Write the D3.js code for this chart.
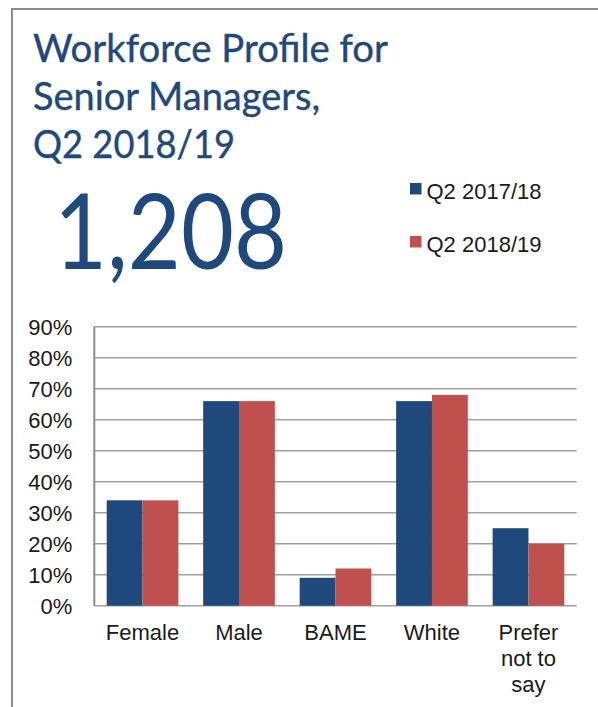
<!DOCTYPE html>
<html>
<head>
<meta charset="utf-8">
<script src="https://cdn.jsdelivr.net/npm/d3@7"></script>
<style>
  html, body { margin: 0; padding: 0; background: #fff; }
  svg { display: block; }
</style>
</head>
<body>
<svg id="chart" width="598" height="707"></svg>
<script>
// ---- data ----
const categories = ["Female", "Male", "BAME", "White", "Prefer not to say"];
const categoryLines = [["Female"], ["Male"], ["BAME"], ["White"], ["Prefer", "not to", "say"]];
const seriesNames = ["Q2 2017/18", "Q2 2018/19"];
const valuesQ2_2017_18 = [34, 66, 9, 66, 25];
const valuesQ2_2018_19 = [34, 66, 12, 68, 20];
const yTicks = [0, 10, 20, 30, 40, 50, 60, 70, 80, 90];
const titleLines = ["Workforce Profile for", "Senior Managers,", "Q2 2018/19"];
const headcount = "1,208";

const seriesColors = ["#1F497D", "#C0504D"];
const seriesValues = [valuesQ2_2017_18, valuesQ2_2018_19];

const svg = d3.select("#chart");

// outer frame
svg.append("rect")
  .attr("x", 12).attr("y", 9).attr("width", 640).attr("height", 720)
  .attr("fill", "none").attr("stroke", "#8c8c8c").attr("stroke-width", 2);

// title
const titleBase = [62, 110, 158];
const titleWidths = [355, 287, 202];
svg.append("g").selectAll("text").data(titleLines).join("text")
  .attr("x", 33)
  .attr("y", (d, i) => titleBase[i])
  .attr("textLength", (d, i) => titleWidths[i])
  .attr("lengthAdjust", "spacingAndGlyphs")
  .attr("font-family", "Lato, 'Open Sans', sans-serif")
  .attr("font-size", 39)
  .attr("fill", "#1F497D")
  .attr("stroke", "#1F497D").attr("stroke-width", 0.4)
  .text(d => d);

// big number
svg.append("text")
  .attr("x", 54).attr("y", 269)
  .attr("textLength", 233)
  .attr("lengthAdjust", "spacingAndGlyphs")
  .attr("font-family", "Lato, 'Open Sans', sans-serif")
  .attr("font-size", 105)
  .attr("fill", "#1F497D")
  .text(headcount);

// legend
const legend = svg.append("g");
const legY = [183, 236];
seriesNames.forEach((name, i) => {
  legend.append("rect")
    .attr("x", 410).attr("y", legY[i])
    .attr("width", 11.5).attr("height", 11.5)
    .attr("fill", seriesColors[i]);
  legend.append("text")
    .attr("x", 426.5).attr("y", legY[i] + 15.5)
    .attr("font-family", "'Liberation Sans', Arial, sans-serif")
    .attr("font-size", 22)
    .attr("fill", "#1a1a1a")
    .text(name);
});

// plot
const pLeft = 94.3, pRight = 576.7, pTop = 326.7, pBottom = 605.7;
const y = d3.scaleLinear().domain([0, 90]).range([pBottom, pTop]);
const x0 = d3.scaleBand().domain(categories).range([pLeft, pRight])
  .paddingInner(0.257).paddingOuter(0.1285);
const x1 = d3.scaleBand().domain(seriesNames).range([0, x0.bandwidth()]);

// gridlines
svg.append("g").selectAll("line").data(yTicks).join("line")
  .attr("x1", pLeft).attr("x2", pRight)
  .attr("y1", d => y(d)).attr("y2", d => y(d))
  .attr("stroke", "#a0a0a0").attr("stroke-width", 1.5);

// y axis line
svg.append("line")
  .attr("x1", pLeft).attr("x2", pLeft).attr("y1", pTop).attr("y2", pBottom)
  .attr("stroke", "#8c8c8c").attr("stroke-width", 2);

// bars
const groups = svg.append("g").selectAll("g").data(categories).join("g")
  .attr("transform", d => `translate(${x0(d)},0)`);
groups.selectAll("rect")
  .data((c, ci) => seriesNames.map((s, si) => ({ s, si, v: seriesValues[si][ci] })))
  .join("rect")
  .attr("x", d => x1(d.s))
  .attr("width", x1.bandwidth())
  .attr("y", d => y(d.v))
  .attr("height", d => pBottom - y(d.v))
  .attr("fill", d => seriesColors[d.si]);

// y axis labels
const yAxis = d3.axisLeft(y).tickValues(yTicks).tickFormat(d => d + "%").tickSize(0).tickPadding(22);
const yg = svg.append("g").attr("transform", `translate(${pLeft},0)`).call(yAxis);
yg.select(".domain").remove();
yg.selectAll("text")
  .attr("font-family", "'Liberation Sans', Arial, sans-serif")
  .attr("font-size", 22)
  .attr("fill", "#1a1a1a")
  .attr("dy", "0.36em");

// x axis labels
const xg = svg.append("g");
categories.forEach((c, i) => {
  const cx = x0(c) + x0.bandwidth() / 2;
  const t = xg.append("text")
    .attr("x", cx)
    .attr("y", 640)
    .attr("text-anchor", "middle")
    .attr("font-family", "'Liberation Sans', Arial, sans-serif")
    .attr("font-size", 22)
    .attr("fill", "#1a1a1a");
  categoryLines[i].forEach((ln, j) => {
    t.append("tspan").attr("x", cx).attr("y", 640 + j * 26).text(ln);
  });
});
</script>
</body>
</html>
